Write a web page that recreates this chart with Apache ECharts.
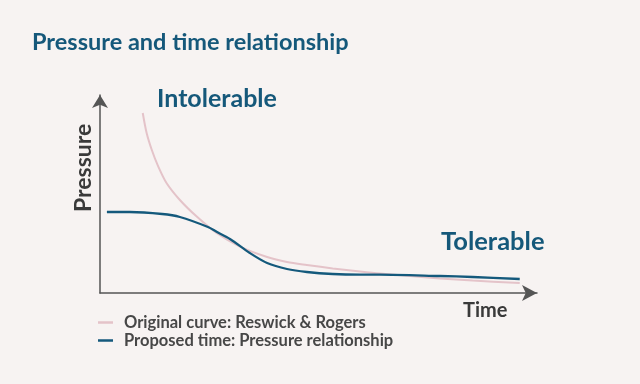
<!DOCTYPE html>
<html>
<head>
<meta charset="utf-8">
<script src="https://cdn.jsdelivr.net/npm/echarts@6/dist/echarts.min.js"></script>
<style>
html,body{margin:0;padding:0;background:#f7f3f2;}
#c{width:640px;height:384px;}
</style>
</head>
<body>
<div id="c"></div>
<script>
const titleText = 'Pressure and time relationship';
const seriesNames = ['Original curve: Reswick & Rogers', 'Proposed time: Pressure relationship'];
// x: time (0-100), y: pressure (relative units)
const originalX = [9.9, 10.8, 12.0, 13.5, 15.4, 18.5, 22.4, 27.0, 32.4, 38.7, 43.3, 47.9, 53.9, 60.2, 64.8, 78.7, 86.3, 97.2];
const originalY = [90, 80, 71.5, 63.2, 55, 46.5, 38.2, 30, 23.2, 18, 15.5, 14, 12.3, 10.8, 9.8, 7.3, 6.2, 5];
const proposedX = [1.6, 6.9, 14.4, 18.5, 25.0, 27.0, 30.1, 34.7, 38.7, 43.3, 47.9, 53.9, 60.2, 64.8, 78.7, 86.3, 97.2];
const proposedY = [40.5, 40.5, 39.5, 38, 33, 30.6, 27, 20, 15, 12, 10.5, 9.5, 9.2, 9.2, 8.5, 8, 7];
const regionLabels = ['Intolerable', 'Tolerable'];
const axisNames = ['Time', 'Pressure'];

const zip = (xs, ys) => xs.map((x, i) => [x, ys[i]]);
const FONT = 'Lato';
const TEAL = '#15587a';
const PINK = '#e4c3c9';
const BLUE = '#14597c';

const chart = echarts.init(document.getElementById('c'));
chart.setOption({
  backgroundColor: '#f7f3f2',
  animation: false,
  title: {
    text: titleText, left: 27, top: 25,
    textStyle: {fontFamily: FONT, fontWeight: 'bold', fontSize: 23.5, color: TEAL}
  },
  grid: {left: 100, right: 103, top: 95, bottom: 91},
  xAxis: {
    type: 'value', min: 0, max: 101.2,
    axisLine: {show: true, symbol: ['none', 'arrow'], symbolSize: [12, 15], lineStyle: {color: '#555', width: 1.5}},
    axisTick: {show: false}, axisLabel: {show: false}, splitLine: {show: false}
  },
  yAxis: {
    type: 'value', min: 0, max: 99,
    axisLine: {show: true, symbol: ['none', 'arrow'], symbolSize: [12, 13], lineStyle: {color: '#555', width: 1.5}},
    axisTick: {show: false}, axisLabel: {show: false}, splitLine: {show: false}
  },
  legend: {
    orient: 'vertical', left: 93, top: 309, itemWidth: 15, itemHeight: 2.5, itemGap: 1,
    icon: 'rect',
    textStyle: {fontFamily: FONT, fontWeight: 'bold', fontSize: 16.5, color: '#474747', padding: [0, 0, 0, 6]},
    data: seriesNames
  },
  series: [
    {name: seriesNames[0], type: 'line', data: zip(originalX, originalY), smooth: 0.3, showSymbol: false,
     lineStyle: {color: PINK, width: 2}, itemStyle: {color: PINK}},
    {name: seriesNames[1], type: 'line', data: zip(proposedX, proposedY), smooth: 0.3, showSymbol: false,
     lineStyle: {color: BLUE, width: 2.3}, itemStyle: {color: BLUE}}
  ],
  graphic: [
    {type: 'text', left: 157, top: 86, style: {text: regionLabels[0], font: 'bold 25px ' + FONT, fill: TEAL}},
    {type: 'text', left: 441, top: 229, style: {text: regionLabels[1], font: 'bold 25.5px ' + FONT, fill: TEAL}},
    {type: 'text', left: 463, top: 301, style: {text: axisNames[0], font: 'bold 20px ' + FONT, fill: '#3a3a3a'}},
    {type: 'text', x: 72, y: 212, rotation: Math.PI / 2, style: {text: axisNames[1], font: 'bold 23px ' + FONT, fill: '#3a3a3a', textVerticalAlign: 'top'}}
  ]
});
</script>
</body>
</html>
